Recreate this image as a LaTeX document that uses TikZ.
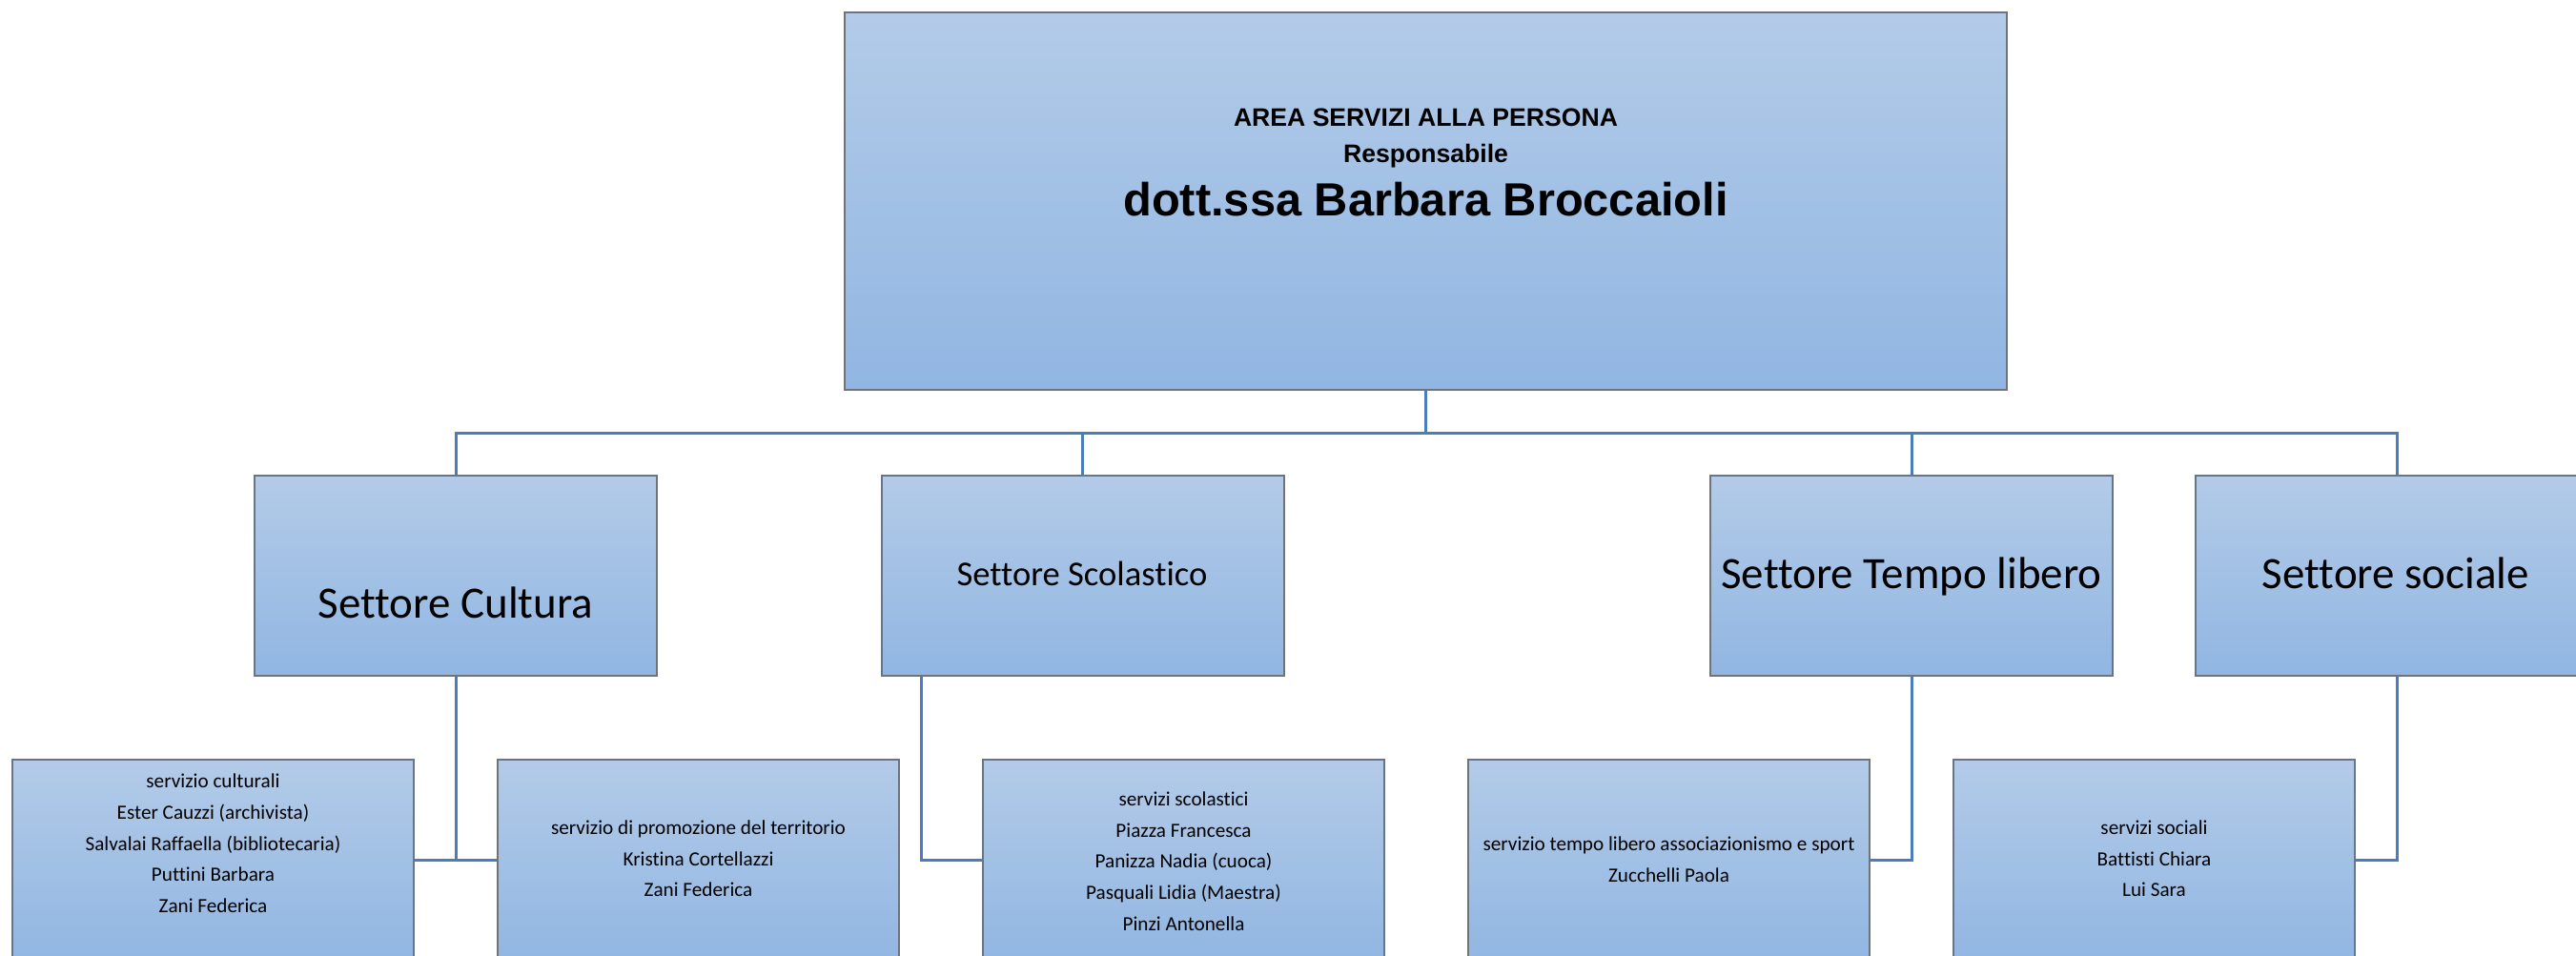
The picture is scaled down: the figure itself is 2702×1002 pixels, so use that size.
\documentclass[tikz,border=0pt]{standalone}
\usepackage{fontspec}
\setmainfont{Carlito}[Ligatures=NoCommon]
\newfontfamily\arialf{Liberation Sans}
\usetikzlibrary{calc}
\definecolor{boxtop}{RGB}{179,203,232}
\definecolor{boxbot}{RGB}{145,182,226}
\definecolor{bordercol}{RGB}{108,116,128}
\definecolor{conncol}{RGB}{74,126,187}
\begin{document}
\begin{tikzpicture}[x=0.5pt,y=-0.5pt,
  box/.style={draw=bordercol, line width=1pt, top color=boxtop, bottom color=boxbot, inner sep=0pt},
  topbox/.style={box, minimum width=609.5pt, minimum height=198pt},
  secbox/.style={box, minimum width=211pt, minimum height=105pt},
  unitbox/.style={box, minimum width=210.5pt, minimum height=105pt},
  conn/.style={draw=conncol, line width=1.5pt},
  toptxt/.style={anchor=base, inner sep=0pt, font=\arialf\bfseries\fontsize{13.3}{16}\selectfont},
  bigtxt/.style={anchor=base, inner sep=0pt, font=\arialf\bfseries\fontsize{24.4}{28}\selectfont},
  sectxt/.style={anchor=base, inner sep=0pt, font=\fontsize{23.5}{28}\selectfont},
  unittxt/.style={align=center, inner sep=0pt, font=\fontsize{10.6}{16.35}\selectfont}]
\useasboundingbox (0,0) rectangle (2702,1002);
\clip (0,0) rectangle (2702,1002);

% boxes
\node[topbox] (top) at (1495.5,211) {};
\node[secbox] (cultura) at (478,604) {};
\node[secbox] (scol) at (1135.5,604) {};
\node[secbox] (tempo) at (2005,604) {};
\node[secbox] (sociale) at (2514,604) {};
\node[unitbox] (A) at (223.5,902) {};
\node[unitbox] (B) at (732.5,902) {};
\node[unitbox] (C) at (1241.5,902) {};
\node[unitbox] (D) at (1750.5,902) {};
\node[unitbox] (E) at (2259.5,902) {};

% connectors
\coordinate (bus) at (0,454);
\draw[conn] (top.south) -- (top.south |- bus);
\draw[conn] (cultura.north) -- (cultura.north |- bus) -- (sociale.north |- bus) -- (sociale.north);
\draw[conn] (scol.north) -- (scol.north |- bus);
\draw[conn] (tempo.north) -- (tempo.north |- bus);
\draw[conn] (cultura.south) -- (cultura.south |- A.east);
\draw[conn] (A.east) -- (B.west);
\draw[conn] ($(scol.south west)+(43,0)$) |- (C.west);
\draw[conn] (tempo.south) |- (D.east);
\draw[conn] (sociale.south) |- (E.east);

% texts
\node[toptxt] (t1) at (1495.5,132) {AREA SERVIZI ALLA PERSONA};
\node[toptxt] (t2) at (1495.5,170) {Responsabile};
\node[bigtxt] (t3) at (1495.5,226) {dott.ssa Barbara Broccaioli};

\node[sectxt] (tc) at (478,648) {Settore Cultura};
\node[sectxt, font=\fontsize{18.3}{22}\selectfont] (ts) at (1135,614) {Settore Scolastico};
\node[sectxt] (tt) at (2005,617) {Settore Tempo libero};
\node[sectxt] (tso) at (2513,617) {Settore sociale};

\node[unittxt] (ta) at (223.5,885) {servizio culturali\\Ester Cauzzi (archivista)\\Salvalai Raffaella (bibliotecaria)\\Puttini Barbara\\Zani Federica};
\node[unittxt] (tb) at (732.5,901) {servizio di promozione del territorio\\Kristina Cortellazzi\\Zani Federica};
\node[unittxt] (tcc) at (1241.5,903.5) {servizi scolastici\\Piazza Francesca\\Panizza Nadia (cuoca)\\Pasquali Lidia (Maestra)\\Pinzi Antonella};
\node[unittxt] (td) at (1750.5,902) {servizio tempo libero associazionismo e sport\\Zucchelli Paola};
\node[unittxt] (te) at (2259.5,901) {servizi sociali\\Battisti Chiara\\Lui Sara};
\end{tikzpicture}
\end{document}
